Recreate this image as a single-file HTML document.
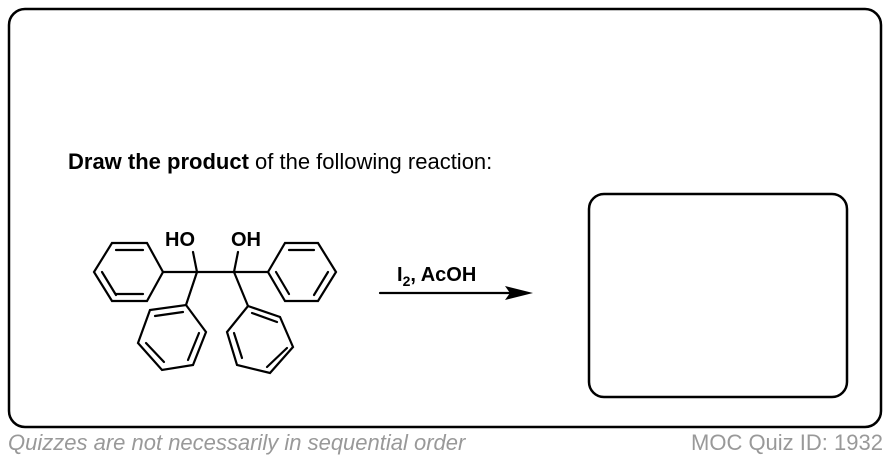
<!DOCTYPE html>
<html><head><meta charset="utf-8"><style>
body{margin:0;width:890px;height:460px;background:#fff;overflow:hidden;position:relative;font-family:"Liberation Sans",Arial,sans-serif}
</style></head><body>
<svg width="890" height="460" style="position:absolute;left:0;top:0">
<rect x="9" y="9" width="872" height="418" rx="16" fill="none" stroke="#000" stroke-width="2.5"/>
<rect x="589" y="194" width="258" height="203" rx="15" fill="none" stroke="#000" stroke-width="2.5"/>
<text x="68" y="169" font-size="22" font-family="Liberation Sans, sans-serif"><tspan font-weight="bold">Draw the product</tspan> of the following reaction:</text>
<g stroke="#000" stroke-width="2.2" fill="none" stroke-linecap="round">
<line x1="163" y1="272" x2="268" y2="272"/>
<line x1="197" y1="272" x2="193" y2="252"/>
<line x1="234" y1="272" x2="238" y2="252"/>
<line x1="197" y1="272" x2="186" y2="305"/>
<line x1="234" y1="272" x2="248" y2="306"/>
<polygon points="163,272 147,243 112,243 94,272 112,301 147,301"/>
<line x1="143" y1="250" x2="116" y2="250"/><line x1="102" y1="272" x2="116" y2="295"/>
<line x1="116" y1="294" x2="143" y2="294"/>
<polygon points="268,272 285,243 318,243 336,272 318,301 285,301"/>
<line x1="289" y1="250" x2="314" y2="250"/><line x1="328" y1="272" x2="314" y2="295"/><line x1="276" y1="272" x2="289" y2="294"/>
<polygon points="186,305 206,332 193,365 162,370 138,343 150,310"/>
<line x1="155" y1="316" x2="183" y2="312"/><line x1="199" y1="333" x2="188" y2="360"/><line x1="146" y1="343" x2="164" y2="362"/>
<polygon points="248,306 280,317 293,347 270,373 237,365 227,332"/>
<line x1="252" y1="313" x2="277" y2="322"/><line x1="287" y1="348" x2="267" y2="367"/><line x1="234" y1="333" x2="242" y2="358"/>
<line x1="380" y1="293" x2="515" y2="293"/>
</g>
<polygon points="533,293 505,286 510,293 505,300" fill="#000"/>
<text x="165" y="246" font-size="20" font-weight="bold">HO</text>
<text x="231" y="246" font-size="20" font-weight="bold">OH</text>
<text x="397" y="281" font-size="20" font-weight="bold">I<tspan font-size="14" dy="5">2</tspan><tspan dy="-5">, AcOH</tspan></text>
<text x="8" y="450" font-size="22" font-style="italic" fill="#999">Quizzes are not necessarily in sequential order</text>
<text x="691" y="450" font-size="22" fill="#999">MOC Quiz ID: 1932</text>
</svg>
</body></html>
